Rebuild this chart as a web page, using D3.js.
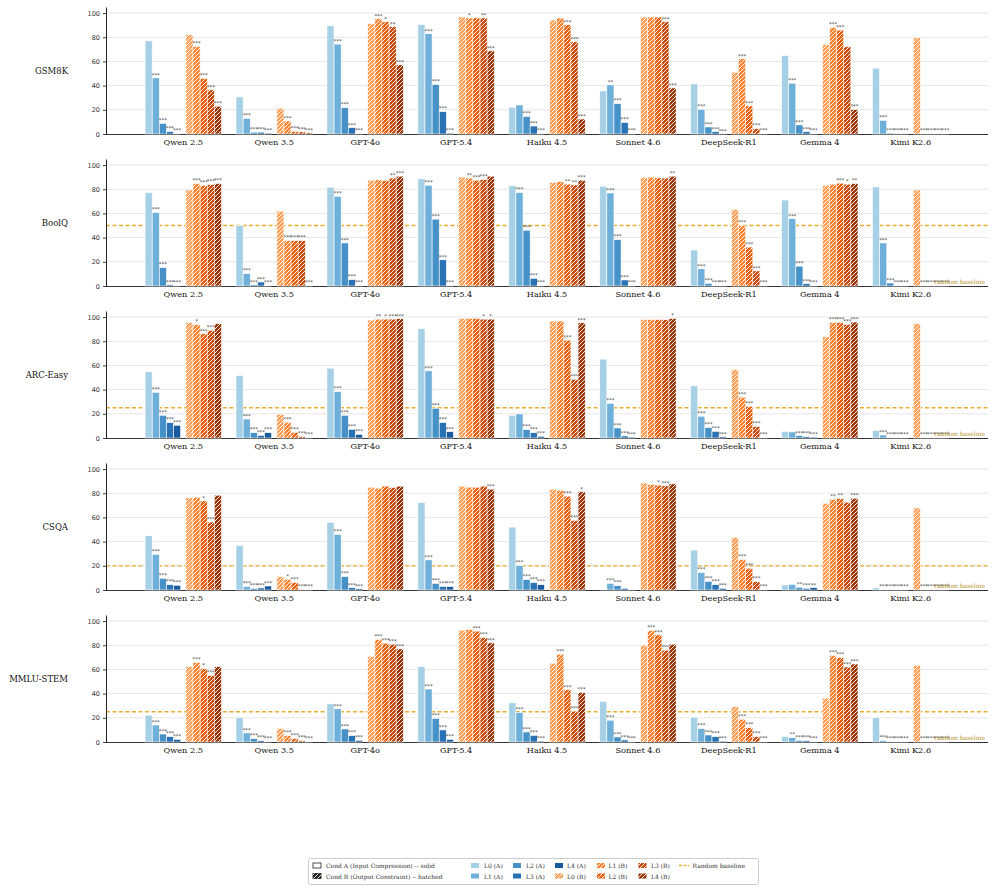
<!DOCTYPE html>
<html><head><meta charset="utf-8">
<script src="https://cdn.jsdelivr.net/npm/d3@7"></script>
<style>body{margin:0;background:#fff}svg{display:block}</style>
</head><body><svg id="c" width="996" height="892"></svg>
<script>
const models = ["Qwen 2.5","Qwen 3.5","GPT-4o","GPT-5.4","Haiku 4.5","Sonnet 4.6","DeepSeek-R1","Gemma 4","Kimi K2.6"];
const benchmarks = ["GSM8K","BoolQ","ARC-Easy","CSQA","MMLU-STEM"];
const levelsA = ["L0 (A)","L1 (A)","L2 (A)","L3 (A)","L4 (A)"];
const levelsB = ["L0 (B)","L1 (B)","L2 (B)","L3 (B)","L4 (B)"];
const randomBaseline = [null, 50, 25, 20, 25];
const yTicks = [0, 20, 40, 60, 80, 100];
const colorsA = ["#a6d0e6","#6eb0da","#4591c8","#2a72b6","#195a9c"];
const colorsB = ["#fda15a","#f98434","#e5600f","#c84b0e","#9a3508"];

// values: one row per model, five levels each
const gsm8kA = [[77,46.4,8.8,2,0.3],[30.7,13,1.5,1.5,0.8],[89.5,74.3,21.8,5.2,0.3],[90.6,82.9,40.9,18.5,0.8],[22.1,24,14.6,6.6,0.5],[35.6,40.6,25.1,9.4,0.3],[41.4,20.4,5.8,1.9,0.2],[64.9,42,7.5,1.9,0.3],[54.4,11.3,0.8,0.5,0.5]];
const gsm8kB = [[82,72.4,46,36.5,23],[21.3,10.8,2.2,1.8,1],[91.2,95.3,92.8,88.7,57.2],[96.7,95.9,96,96,68.8],[94.2,95.9,90.3,76.2,12.4],[96.7,96.7,96.7,92.8,38.1],[51.1,62.2,23.2,4.4,0.3],[73.8,88.1,85.9,72.1,20.4],[79.6,0.3,0.3,0.3,0.3]];
const boolqA = [[77.2,60.8,15.3,1,0.3],[50,10.3,1,3.3,0.3],[81.7,74.2,35.6,5.3,0.3],[88.6,83.3,55.3,21.7,0.5],[82.8,77.2,46.1,6.4,0.3],[82.5,76.9,38.3,5,0.3],[29.7,14.2,2.2,0.5,0.3],[71.1,55.6,16.4,1.9,0.3],[81.9,35.6,2.5,0.3,0.3]];
const boolqB = [[79.4,84.7,83,83.9,84.7],[61.9,37.5,37.5,37.5,0.3],[87.5,87.8,87.2,89.2,90.8],[90,89.2,87.5,88,90.8],[85.6,86.4,84.2,83.6,87.5],[89.7,90,89.4,89.2,90.8],[63.3,50,32.2,12.5,0.5],[83.1,84.2,85,84.2,84.7],[79.4,0.3,0.3,0.3,0.3]];
const arcA = [[54.7,37.8,18.8,12.7,10.5],[51.7,15.7,4.4,2.2,4.4],[57.7,38.4,18.8,7.2,3],[90.3,55.5,24.6,12.7,5.2],[18.8,19.9,6.9,4.4,1.4],[65.2,28.7,8.3,1.7,0.8],[43.1,18,8.6,5.5,1],[5.5,5,1.9,1.1,0.8],[6.1,2.5,0.3,0.3,0.3]];
const arcB = [[95.3,93.9,86.2,89,94.5],[19.6,13,4.7,1.4,0.3],[97.5,98.3,98.3,98.3,98.6],[98.9,98.9,98.9,98.3,98.3],[96.7,96.7,80.9,48.6,95.3],[98,98,98,97.8,98.9],[56.6,33.7,26.2,9.4,0.5],[83.7,95.6,95.6,93.9,95.9],[94.5,0.3,0.3,0.3,0.3]];
const csqaA = [[44.9,29.4,9.7,4.4,3.9],[36.8,3,1.4,1.7,3.3],[56,46,11.1,1.9,1],[72.3,24.9,5.5,3,2.8],[52,20.2,8.6,6.1,4.4],[0.6,5.5,3.6,1.4,0.3],[33,14.4,7.2,4.4,1.4],[4.2,4.7,2.2,1.4,1.9],[1.7,0.3,0.3,0.3,0.3]];
const csqaB = [[76.2,76.7,73.7,56.2,78.4],[11.1,8.9,6.1,0.6,0.3],[85,84.2,85.9,84.8,85.9],[85.9,85,85,85.9,83.4],[83.4,82.5,77.6,57.6,81.2],[88.4,87.3,86.7,86.1,87.8],[43.5,25.2,18,6.9,0.5],[71.7,75.1,75.6,72.6,75.9],[67.9,0.3,0.3,0.3,0.3]];
const mmluA = [[22.2,14.1,6.6,4.4,2.2],[20.2,7.5,2.8,1.1,0.6],[31.6,27.4,10.8,5.3,1.4],[62.3,43.8,19.4,10,2.2],[32.4,24.4,8.3,5.5,0.8],[33.5,18,4.2,1.7,0.3],[20.5,11.1,5.8,4.4,0.8],[4.7,3.6,1.4,1.1,0.3],[20.2,1.4,0.3,0.3,0.3]];
const mmluB = [[62.3,65.9,60.7,55.1,62.3],[11.1,5.3,3,1.1,0.3],[70.9,84.8,81.7,80.9,77],[92.5,93.1,91.7,86.4,82],[65.1,72.6,43.2,25.5,41],[80.1,92.2,88.6,75.9,80.9],[29.4,18.8,11.9,4.4,0.3],[36.3,71.7,69.8,62,64.5],[63.4,0.3,0.3,0.3,0.3]];

// significance: number of stars vs L0 of the same condition
const gsm8kStarsA = [[0,3,3,3,3],[0,3,3,3,3],[0,3,3,3,3],[0,3,3,3,3],[0,0,3,3,3],[0,2,3,3,3],[0,3,3,3,3],[0,3,3,3,3],[0,3,3,3,3]];
const gsm8kStarsB = [[0,3,3,3,3],[0,3,3,3,3],[0,3,1,2,3],[0,1,0,2,3],[0,0,3,3,3],[0,0,0,3,3],[0,3,3,3,3],[0,3,3,0,3],[0,3,3,3,3]];
const boolqStarsA = [[0,3,3,3,3],[0,3,3,3,3],[0,3,3,3,3],[0,3,3,3,3],[0,3,3,3,3],[0,3,3,3,3],[0,3,3,3,3],[0,3,3,3,3],[0,3,3,3,3]];
const boolqStarsB = [[0,3,3,3,3],[0,3,3,3,3],[0,0,0,2,3],[0,2,3,3,0],[0,0,2,2,3],[0,0,0,0,2],[0,3,3,3,3],[0,0,3,1,2],[0,3,3,3,3]];
const arcStarsA = [[0,3,3,3,3],[0,3,3,3,3],[0,3,3,3,3],[0,3,3,3,3],[0,0,3,3,3],[0,3,3,3,3],[0,3,3,3,3],[0,0,3,3,3],[0,3,3,3,3]];
const arcStarsB = [[0,1,3,3,0],[0,3,3,3,3],[0,2,1,3,3],[0,0,0,1,1],[0,0,3,3,3],[0,0,0,0,1],[0,3,3,3,3],[0,3,3,3,3],[0,3,3,3,3]];
const csqaStarsA = [[0,3,3,3,3],[0,3,3,3,3],[0,3,3,3,3],[0,3,3,3,3],[0,3,3,3,3],[0,3,3,0,0],[0,3,3,3,3],[0,0,2,3,2],[0,3,3,3,3]];
const csqaStarsB = [[0,0,1,3,0],[0,1,3,3,3],[0,0,0,0,0],[0,0,0,0,3],[0,0,3,3,1],[0,0,1,3,0],[0,3,3,3,3],[0,2,2,0,3],[0,3,3,3,3]];
const mmluStarsA = [[0,3,3,3,3],[0,3,3,3,3],[0,3,3,3,3],[0,3,3,3,3],[0,3,3,3,3],[0,3,3,3,3],[0,3,3,3,3],[0,2,3,3,3],[0,3,3,3,3]];
const mmluStarsB = [[0,3,1,3,0],[0,3,3,3,3],[0,3,3,3,3],[0,0,3,3,3],[0,3,3,3,3],[0,3,3,3,0],[0,3,3,3,3],[0,3,3,3,3],[0,3,3,3,3]];

const valuesA = [gsm8kA, boolqA, arcA, csqaA, mmluA];
const valuesB = [gsm8kB, boolqB, arcB, csqaB, mmluB];
const starsA = [gsm8kStarsA, boolqStarsA, arcStarsA, csqaStarsA, mmluStarsA];
const starsB = [gsm8kStarsB, boolqStarsB, arcStarsB, csqaStarsB, mmluStarsB];

const svg = d3.select("#c");
const SERIF = "'DejaVu Serif', serif";
const SANS = "'DejaVu Sans', sans-serif";
const BASE_COLOR = "#e8ad2e";

const defs = svg.append("defs");
defs.append("pattern").attr("id","hatch").attr("patternUnits","userSpaceOnUse")
  .attr("width",4).attr("height",4)
  .append("path").attr("d","M-1,1 l2,-2 M0,4 l4,-4 M3,5 l2,-2")
  .attr("stroke","#fff").attr("stroke-width",0.9).attr("fill","none");

const xLeft = 106, xRight = 988;
const x = d3.scalePoint().domain(models).range([xLeft, xRight]).padding(0.85);
const xA = d3.scaleBand().domain(d3.range(5)).range([-38.2, -2.6]);
const xB = d3.scaleBand().domain(d3.range(5)).range([2.6, 38.2]);

const panelTop0 = 7, panelPitch = 152, panelH = 127;

benchmarks.forEach((bench, bi) => {
  const top = panelTop0 + bi * panelPitch;
  const y = d3.scaleLinear().domain([0, 105]).range([top + panelH, top]);
  const g = svg.append("g");

  g.append("g").selectAll("line").data(yTicks.filter(t => t > 0)).join("line")
    .attr("x1", xLeft).attr("x2", xRight).attr("y1", d => y(d)).attr("y2", d => y(d))
    .attr("stroke", "#e6e6e6").attr("stroke-width", 1);

  if (randomBaseline[bi] != null) {
    g.append("line").attr("x1", xLeft).attr("x2", xRight)
      .attr("y1", y(randomBaseline[bi])).attr("y2", y(randomBaseline[bi]))
      .attr("stroke", BASE_COLOR).attr("stroke-width", 1.3).attr("stroke-dasharray", "4,2.5");
  }

  g.append("line").attr("x1", xLeft).attr("x2", xRight).attr("y1", y(0) + 0.5).attr("y2", y(0) + 0.5)
    .attr("stroke", "#333").attr("stroke-width", 1);

  const drawCond = (vals, stars, colors, inner, hatched) => {
    models.forEach((m, mi) => {
      vals[mi].forEach((v, li) => {
        const bx = x(m) + inner(li);
        g.append("rect").attr("x", bx).attr("y", y(v)).attr("width", inner.bandwidth())
          .attr("height", y(0) - y(v)).attr("fill", colors[li])
          .attr("stroke", "#fff").attr("stroke-width", 0.6);
        if (hatched) {
          g.append("rect").attr("x", bx).attr("y", y(v)).attr("width", inner.bandwidth())
            .attr("height", y(0) - y(v)).attr("fill", "url(#hatch)");
        }
        const s = stars[mi][li];
        if (s > 0) {
          g.append("text").attr("x", bx + inner.bandwidth() / 2).attr("y", y(v) - 1.2)
            .attr("text-anchor", "middle").attr("font-family", SANS).attr("font-size", 5.4)
            .attr("fill", "#444").text("*".repeat(s));
        }
      });
    });
  };
  drawCond(valuesA[bi], starsA[bi], colorsA, xA, false);
  drawCond(valuesB[bi], starsB[bi], colorsB, xB, true);

  const ya = g.append("g").attr("transform", `translate(${xLeft},0)`)
    .call(d3.axisLeft(y).tickValues(yTicks).tickSize(3).tickSizeOuter(0).tickPadding(3));
  ya.select(".domain").attr("stroke", "#222");
  ya.selectAll(".tick line").attr("stroke", "#444");
  ya.selectAll("text").attr("font-family", SANS).attr("font-size", 6.5).attr("fill", "#333");

  g.append("g").selectAll("text").data(models).join("text")
    .attr("x", d => x(d)).attr("y", y(0) + 11).attr("text-anchor", "middle")
    .attr("font-family", SERIF).attr("font-size", 8.2).attr("fill", "#111").text(d => d);

  g.append("text").attr("x", 68).attr("y", top + panelH / 2 + 3).attr("text-anchor", "end")
    .attr("font-family", SERIF).attr("font-size", 8.5).attr("fill", "#111").text(bench);

  if (randomBaseline[bi] != null) {
    g.append("text").attr("x", 985).attr("y", y(0) - 2).attr("text-anchor", "end")
      .attr("font-family", SERIF).attr("font-size", 6).attr("fill", "#b8922a").text("random baseline");
  }
});

// legend
const lg = svg.append("g");
lg.append("rect").attr("x", 308.5).attr("y", 858.5).attr("width", 450).attr("height", 26).attr("rx", 2)
  .attr("fill", "#fff").attr("stroke", "#ccc");
const row1 = 866.5, row2 = 877;
const legendItems = [
  {label: "Cond A (Input Compression) -- solid", sx: 313, tx: 326, ry: row1, fill: "#fff", stroke: "#222", hatch: false},
  {label: "Cond B (Output Constraint) -- hatched", sx: 313, tx: 326, ry: row2, fill: "#222", stroke: "#222", hatch: true},
  {label: levelsA[0], sx: 471, tx: 484, ry: row1, fill: colorsA[0]},
  {label: levelsA[1], sx: 471, tx: 484, ry: row2, fill: colorsA[1]},
  {label: levelsA[2], sx: 513, tx: 526, ry: row1, fill: colorsA[2]},
  {label: levelsA[3], sx: 513, tx: 526, ry: row2, fill: colorsA[3]},
  {label: levelsA[4], sx: 555, tx: 567, ry: row1, fill: colorsA[4]},
  {label: levelsB[0], sx: 555, tx: 567, ry: row2, fill: colorsB[0], hatch: true},
  {label: levelsB[1], sx: 597, tx: 608.5, ry: row1, fill: colorsB[1], hatch: true},
  {label: levelsB[2], sx: 597, tx: 608.5, ry: row2, fill: colorsB[2], hatch: true},
  {label: levelsB[3], sx: 638.5, tx: 651, ry: row1, fill: colorsB[3], hatch: true},
  {label: levelsB[4], sx: 638.5, tx: 651, ry: row2, fill: colorsB[4], hatch: true},
];
legendItems.forEach(it => {
  lg.append("rect").attr("x", it.sx).attr("y", it.ry - 3.5).attr("width", 8).attr("height", 5)
    .attr("fill", it.fill).attr("stroke", it.stroke || "none").attr("stroke-width", 0.8);
  if (it.hatch) lg.append("rect").attr("x", it.sx).attr("y", it.ry - 3.5).attr("width", 8).attr("height", 5).attr("fill", "url(#hatch)");
  lg.append("text").attr("x", it.tx).attr("y", it.ry + 1.8).attr("font-family", SERIF).attr("font-size", 6)
    .attr("fill", "#333").text(it.label);
});
lg.append("line").attr("x1", 679).attr("x2", 689).attr("y1", row1 - 1).attr("y2", row1 - 1)
  .attr("stroke", BASE_COLOR).attr("stroke-width", 1.3).attr("stroke-dasharray", "3,1.5");
lg.append("text").attr("x", 692.5).attr("y", row1 + 1.8).attr("font-family", SERIF).attr("font-size", 6)
  .attr("fill", "#333").text("Random baseline");
</script></body></html>
